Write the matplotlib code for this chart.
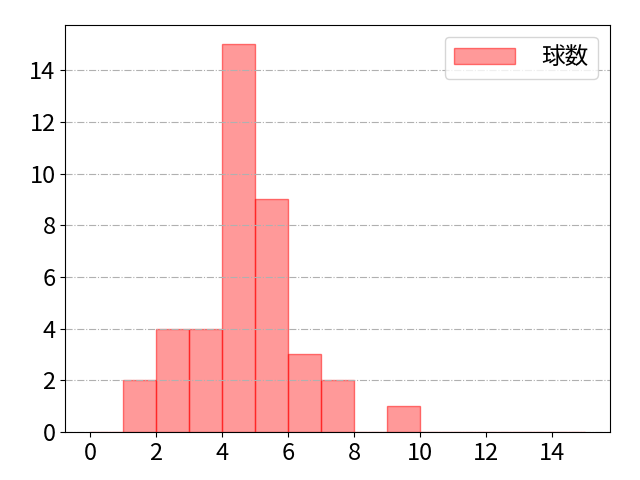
import numpy as np
import matplotlib.pyplot as plt

plt.rcParams['font.family'] = ['Noto Sans CJK JP', 'DejaVu Sans']

# pitch counts (one value per appearance)
pitch_counts = [1] * 2 + [2] * 4 + [3] * 4 + [4] * 15 + [5] * 9 + [6] * 3 + [7] * 2 + [9] * 1
bin_edges = np.arange(0, 16)
legend_label = "球数"

fig, ax = plt.subplots(figsize=(6.4, 4.8), dpi=100)
ax.hist(pitch_counts, bins=bin_edges, facecolor=(1, 0, 0, 0.4), edgecolor=(1, 0, 0, 0.5),
        linewidth=1, label=legend_label)
ax.grid(axis="y", color="#b0b0b0", linestyle="-.", linewidth=0.8)
ax.set_xticks(np.arange(0, 16, 2))
ax.tick_params(labelsize=17)
ax.legend(loc="upper right", fontsize=17, handlelength=2.6, handletextpad=1.1)
fig.subplots_adjust(left=0.102, right=0.953, top=0.948, bottom=0.1)
fig.savefig("out.png")
